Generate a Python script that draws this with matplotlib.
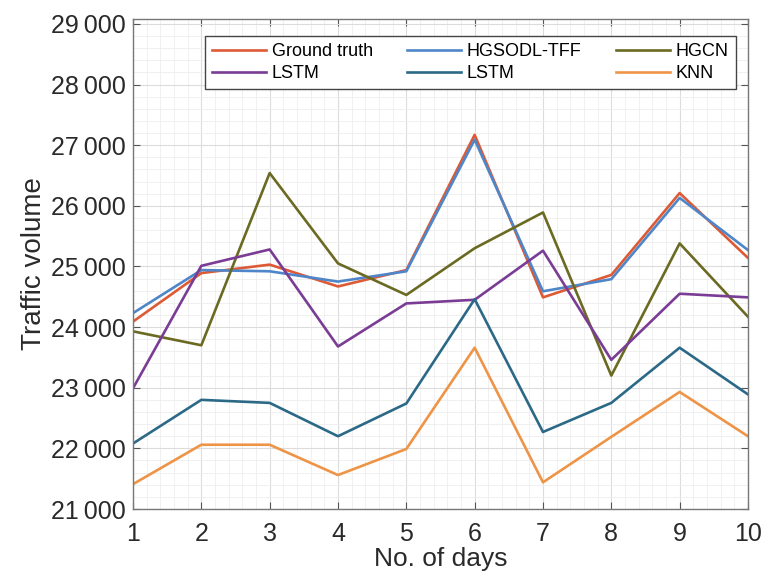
import numpy as np
import matplotlib.pyplot as plt
from matplotlib.ticker import MultipleLocator, AutoMinorLocator, FuncFormatter

plt.rcParams['font.family'] = ['Liberation Sans', 'DejaVu Sans']

days = [1, 2, 3, 4, 5, 6, 7, 8, 9, 10]

# traffic volume per day for each model
ground_truth = [24090, 24890, 25030, 24670, 24940, 27170, 24490, 24860, 26210, 25140]
hgsodl_tff = [24230, 24940, 24920, 24750, 24920, 27090, 24590, 24790, 26130, 25270]
hgcn = [23930, 23700, 26540, 25050, 24530, 25300, 25890, 23200, 25380, 24170]
lstm_a = [22990, 25010, 25280, 23680, 24390, 24450, 25260, 23460, 24550, 24490]
lstm_b = [22080, 22800, 22750, 22200, 22740, 24460, 22270, 22750, 23660, 22890]
knn = [21410, 22060, 22060, 21560, 21990, 23660, 21440, 22190, 22930, 22200]

series = [
    ("Ground truth", ground_truth, "#dd5a35"),
    ("HGSODL-TFF", hgsodl_tff, "#4f86c9"),
    ("HGCN", hgcn, "#6b6a22"),
    ("LSTM", lstm_a, "#7a3c94"),
    ("LSTM", lstm_b, "#2b6987"),
    ("KNN", knn, "#ee9447"),
]

fig = plt.figure(figsize=(7.67, 5.76), dpi=100)
ax = fig.add_axes([0.1734, 0.1163, 0.8018, 0.8507])

lines = []
for name, vals, col in series:
    ln, = ax.plot(days, vals, color=col, lw=1.9, label=name)
    lines.append(ln)

ax.set_xlim(1, 10)
ax.set_ylim(21000, 29080)
ax.xaxis.set_major_locator(MultipleLocator(1))
ax.yaxis.set_major_locator(MultipleLocator(1000))
ax.xaxis.set_minor_locator(AutoMinorLocator(5))
ax.yaxis.set_minor_locator(AutoMinorLocator(5))
ax.yaxis.set_major_formatter(FuncFormatter(lambda v, p: f"{int(v):,}".replace(",", "\u2009")))

ax.grid(which='major', color='#dcdcdc', lw=0.8)
ax.grid(which='minor', color='#eeeeee', lw=0.6)
ax.set_axisbelow(True)

ax.tick_params(which='major', direction='in', length=5, top=True, right=True,
               labelsize=18, colors='#555555', labelcolor='#2a2a2a')
ax.tick_params(axis='x', which='major', pad=9)
ax.tick_params(axis='y', which='major', pad=5)
ax.tick_params(which='minor', length=0)
for s in ax.spines.values():
    s.set_color('#777777')
    s.set_linewidth(1.0)

ax.set_xlabel("No. of days", fontsize=19, color='#2a2a2a', labelpad=1)
ax.set_ylabel("Traffic volume", fontsize=20, color='#2a2a2a', labelpad=3)

# legend is filled column by column, so reorder to read row by row
order = [0, 3, 1, 4, 2, 5]
leg = ax.legend([lines[i] for i in order], [series[i][0] for i in order],
                ncol=3, loc='upper left', bbox_to_anchor=(0.117, 0.965),
                borderaxespad=0, fontsize=13, handlelength=3.0, handletextpad=0.3,
                columnspacing=1.9, labelspacing=0.25, fancybox=False,
                framealpha=1, edgecolor='#444444', borderpad=0.4)
leg.get_frame().set_linewidth(1.0)

fig.savefig("out.png", dpi=100)
